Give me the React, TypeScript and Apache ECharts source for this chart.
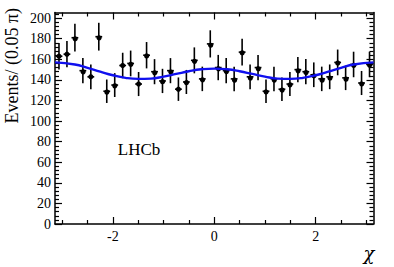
import React, { useEffect, useRef } from "react";
import * as echarts from "echarts";

const PI = Math.PI;
// Measured events per bin (40 bins of width 0.05 pi, from -pi to pi)
const binCounts = [
  163, 165, 181, 149, 143, 182, 129, 135, 154, 156,
  136, 164, 148, 139, 149, 131, 138, 159, 141, 175,
  152, 149, 141, 167, 143, 152, 129, 141, 131, 136,
  150, 148, 145, 141, 143, 157, 142, 155, 137, 155,
];
const binErrors = [
  12.8, 12.8, 13.5, 12.2, 12.0, 13.5, 11.4, 11.6, 12.4, 12.5,
  11.7, 12.8, 12.2, 11.8, 12.2, 11.4, 11.7, 12.6, 11.9, 13.2,
  12.3, 12.2, 11.9, 12.9, 12.0, 12.3, 11.4, 11.9, 11.4, 11.7,
  12.2, 12.2, 12.0, 11.9, 12.0, 12.5, 11.9, 12.4, 11.7, 12.4,
];
// Fit curve
const fitX = [
  -3.1416, -2.75, -2.5, -2.25, -2, -1.75, -1.5, -1.25, -1, -0.75, -0.5, -0.25,
  0, 0.25, 0.5, 0.75, 1, 1.25, 1.5, 1.75, 2, 2.25, 2.5, 2.75, 3.1416,
];
const fitY = [
  157, 155, 151.7, 148, 144.5, 142, 141, 141.3, 143.2, 145.8, 148.4, 150.3,
  151, 150.3, 148.4, 145.8, 143.2, 141.3, 141, 142, 144.5, 148, 151.7, 155, 157,
];
const xMajorTicks = [-2, 0, 2];
const xMinorTicks = [-3, -2.5, -1.5, -1, -0.5, 0.5, 1, 1.5, 2.5, 3];
const yMajorTicks = [0, 20, 40, 60, 80, 100, 120, 140, 160, 180, 200];
const yMinorTicks = [
  4, 8, 12, 16, 24, 28, 32, 36, 44, 48, 52, 56, 64, 68, 72, 76, 84, 88, 92, 96,
  104, 108, 112, 116, 124, 128, 132, 136, 144, 148, 152, 156, 164, 168, 172, 176,
  184, 188, 192, 196, 204,
];
const Y_MAX = 205.5;
const BIN_W = 0.05 * PI;

const FONT = "'Liberation Serif', 'DejaVu Serif', serif";

export default function App() {
  const ref = useRef<HTMLDivElement>(null);
  useEffect(() => {
    document.body.style.margin = "0";
    const chart = echarts.init(ref.current!, null, { renderer: "svg" });
    const pts = binCounts.map((v, i) => [-PI + (i + 0.5) * BIN_W, v, binErrors[i]]);
    const lineStyle = { color: "#000", width: 1.5 };
    const xAx = (pos: string, ticks: number[], len: number, labels: boolean, line: boolean) => ({
      type: "value",
      position: pos,
      min: -PI,
      max: PI,
      axisLine: { show: line, onZero: false, lineStyle },
      axisTick: { show: true, inside: true, length: len, customValues: ticks, lineStyle: { color: "#000", width: 1.2 } },
      axisLabel: labels
        ? { show: true, customValues: ticks, fontFamily: FONT, fontSize: 14, color: "#000", margin: 5 }
        : { show: false },
      splitLine: { show: false },
    });
    const yAx = (pos: string, ticks: number[], len: number, labels: boolean, line: boolean) => ({
      type: "value",
      position: pos,
      min: 0,
      max: Y_MAX,
      axisLine: { show: line, onZero: false, lineStyle },
      axisTick: { show: true, inside: true, length: len, customValues: ticks, lineStyle: { color: "#000", width: 1.2 } },
      axisLabel: labels
        ? { show: true, customValues: ticks, fontFamily: FONT, fontSize: 14, color: "#000", margin: 4 }
        : { show: false },
      splitLine: { show: false },
    });
    chart.setOption({
      animation: false,
      grid: { left: 55, right: 20.5, top: 12.5, bottom: 43, containLabel: false },
      xAxis: [
        xAx("bottom", xMajorTicks, 7, true, true),
        xAx("bottom", xMinorTicks, 4, false, false),
        xAx("top", xMajorTicks, 7, false, true),
        xAx("top", xMinorTicks, 4, false, false),
      ],
      yAxis: [
        yAx("left", yMajorTicks, 7, true, true),
        yAx("left", yMinorTicks, 4, false, false),
        yAx("right", yMajorTicks, 7, false, true),
        yAx("right", yMinorTicks, 4, false, false),
      ],
      series: [
        {
          type: "custom",
          xAxisIndex: 0,
          yAxisIndex: 0,
          data: pts,
          z: 3,
          renderItem: (params: any, api: any) => {
            const x = api.value(0);
            const y = api.value(1);
            const e = api.value(2);
            const c = api.coord([x, y]);
            const top = api.coord([x, y + e]);
            const bot = api.coord([x, y - e]);
            const hw = 3.4;
            return {
              type: "group",
              children: [
                { type: "line", shape: { x1: c[0], y1: top[1], x2: c[0], y2: bot[1] }, style: { stroke: "#000", lineWidth: 1.6 } },
                { type: "line", shape: { x1: c[0] - hw, y1: c[1], x2: c[0] + hw, y2: c[1] }, style: { stroke: "#000", lineWidth: 1.6 } },
                { type: "circle", shape: { cx: c[0], cy: c[1], r: 2.6 }, style: { fill: "#000" } },
              ],
            };
          },
        },
        {
          type: "line",
          xAxisIndex: 0,
          yAxisIndex: 0,
          data: fitX.map((x, i) => [x, fitY[i]]),
          smooth: true,
          showSymbol: false,
          z: 4,
          lineStyle: { color: "#1010ee", width: 2.4 },
        },
      ],
      graphic: [
        {
          type: "text",
          x: 12,
          y: 8,
          rotation: PI / 2,
          style: { text: "Events/ (0.05 π)", font: `18px ${FONT}`, fill: "#000", align: "right", verticalAlign: "middle" },
        },
        {
          type: "text",
          x: 139,
          y: 149,
          style: { text: "LHCb", font: `17px ${FONT}`, fill: "#000", align: "center", verticalAlign: "middle" },
        },
        {
          type: "text",
          x: 369,
          y: 253,
          style: { text: "χ", font: `italic 18px 'DejaVu Serif', serif`, fill: "#000", align: "center", verticalAlign: "middle" },
        },
      ],
    });
    return () => chart.dispose();
  }, []);
  return <div ref={ref} style={{ width: 394, height: 267, position: "absolute", left: 0, top: 0 }} />;
}
